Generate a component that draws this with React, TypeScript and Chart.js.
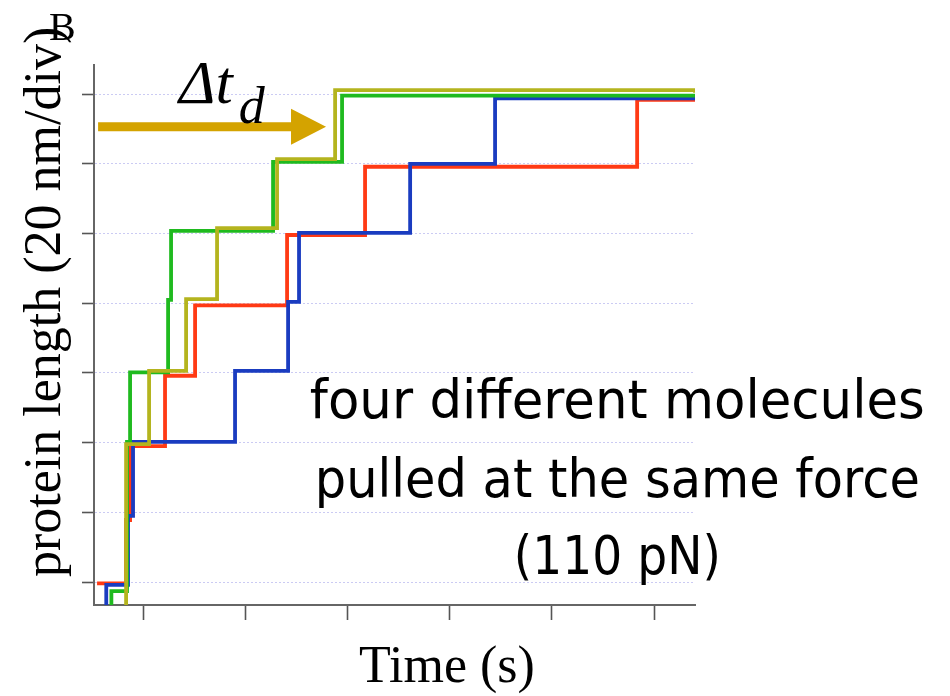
import React, { useEffect, useRef } from "react";
import { Chart, registerables } from "chart.js";

Chart.register(...registerables);

// ---- axes (one tick per division; no numeric labels in the figure) ----
const xTicks = [1, 2, 3, 4, 5, 6];
const yTicks = [0, 1, 2, 3, 4, 5, 6, 7];
const xRange = [0.52, 6.4];
const yRange = [-0.33, 7.42];

// ---- four unfolding traces: time of each step and the new length level (divisions) ----
const oliveTime = [0.55, 0.834, 1.059, 1.421, 1.724, 2.311, 2.879, 6.4];
const oliveLength = [-0.6, 1.98, 3.03, 4.06, 5.08, 6.07, 7.06, 7.02];

const greenTime = [0.677, 0.69, 0.843, 0.873, 1.245, 1.274, 2.272, 2.947, 6.4];
const greenLength = [-0.5, -0.13, 2.01, 3.01, 4.05, 5.04, 6.03, 6.98, 6.98];

const blueTime = [0.62, 0.64, 0.853, 0.902, 1.9, 2.419, 2.526, 3.613, 4.444, 6.4];
const blueLength = [-0.5, -0.04, 0.95, 2.01, 3.03, 4.02, 5.01, 6.0, 6.94, 6.94];

const redTime = [0.55, 0.834, 0.873, 1.215, 1.509, 2.409, 3.172, 5.834, 6.4];
const redLength = [-0.02, 0.89, 1.95, 2.96, 3.97, 4.98, 5.96, 6.92, 6.92];

const seriesNames = ["molecule 4", "molecule 1", "molecule 3", "molecule 2"];

// ---- annotations ----
const arrowTime = [0.56, 2.79];
const arrowLength = 6.535;
const noteLines = ["four different molecules", "pulled at the same force", "(110 pN)"];
const noteTime = 5.64;
const noteLength = [2.35, 1.22, 0.12];
const noteWidths = [615, 605, 207];

const COLORS = ["#b4b41e", "#1fba1f", "#1a3cc0", "#ff3a14"];

function pts(t: number[], v: number[]) {
  return t.map((x, i) => ({ x, y: v[i] }));
}

const overlay = {
  id: "overlay",
  afterDraw(chart: any) {
    const { ctx, scales } = chart;
    const xs = scales.x;
    const ys = scales.y;
    ctx.save();

    // arrow
    const x0 = xs.getPixelForValue(arrowTime[0]);
    const x1 = xs.getPixelForValue(arrowTime[1]);
    const ay = ys.getPixelForValue(arrowLength);
    const head = 35, half = 18, th = 4.5;
    ctx.fillStyle = "#d4a300";
    ctx.beginPath();
    ctx.moveTo(x0, ay - th);
    ctx.lineTo(x1 - head, ay - th);
    ctx.lineTo(x1 - head, ay - half);
    ctx.lineTo(x1, ay);
    ctx.lineTo(x1 - head, ay + half);
    ctx.lineTo(x1 - head, ay + th);
    ctx.lineTo(x0, ay + th);
    ctx.closePath();
    ctx.fill();

    // Δt_d
    ctx.fillStyle = "#000";
    ctx.textAlign = "left";
    ctx.textBaseline = "alphabetic";
    ctx.font = "italic 62px 'Liberation Serif'";
    const lx = x0 + 81;
    ctx.fillText("\u0394t", lx, ay - 24);
    const w = ctx.measureText("\u0394t").width;
    ctx.font = "italic 52px 'Liberation Serif'";
    ctx.fillText("d", lx + w + 6, ay - 4);

    // note text
    const cx = xs.getPixelForValue(noteTime);
    ctx.font = "54px 'DejaVu Sans'";
    ctx.textAlign = "center";
    noteLines.forEach((line, i) => {
      const by = ys.getPixelForValue(noteLength[i]);
      const sx = noteWidths[i] / ctx.measureText(line).width;
      ctx.save();
      ctx.translate(cx, by);
      ctx.scale(sx, 1);
      ctx.fillText(line, 0, 0);
      ctx.restore();
    });

    // axis titles
    ctx.font = "52px 'Liberation Serif'";
    ctx.textAlign = "center";
    ctx.fillText("Time (s)", 447, 682);

    ctx.save();
    ctx.translate(60, 577);
    ctx.rotate(-Math.PI / 2);
    ctx.textAlign = "left";
    ctx.fillText("protein length (20 nm/div)", 0, 0);
    ctx.restore();

    ctx.font = "40px 'Liberation Serif'";
    ctx.textAlign = "left";
    ctx.fillText("B", 49, 40);

    ctx.restore();
  },
};

export default function App() {
  const ref = useRef<HTMLCanvasElement | null>(null);

  useEffect(() => {
    if (!ref.current) return;
    const series = [
      pts(oliveTime, oliveLength),
      pts(greenTime, greenLength),
      pts(blueTime, blueLength),
      pts(redTime, redLength),
    ];
    const chart = new Chart(ref.current, {
      type: "scatter",
      data: {
        datasets: series.map((d, i) => ({
          label: seriesNames[i],
          data: d,
          showLine: true,
          stepped: true,
          borderColor: COLORS[i],
          backgroundColor: COLORS[i],
          borderWidth: 3.8,
          pointRadius: 0,
          pointHoverRadius: 0,
          fill: false,
        })),
      },
      options: {
        responsive: false,
        devicePixelRatio: 1,
        animation: false,
        layout: { padding: { left: 82, top: 65, right: 255, bottom: 76 } },
        plugins: { legend: { display: false }, tooltip: { enabled: false } },
        events: [],
        scales: {
          x: {
            type: "linear",
            min: xRange[0],
            max: xRange[1],
            afterBuildTicks: (s: any) => {
              s.ticks = xTicks.map((v) => ({ value: v }));
            },
            ticks: { display: false },
            grid: {
              display: true,
              drawOnChartArea: false,
              drawTicks: true,
              tickLength: 15,
              tickColor: "#555",
              tickWidth: 1.6,
              tickBorderDash: [],
            },
            border: { display: true, color: "#666", width: 2 },
          },
          y: {
            type: "linear",
            min: yRange[0],
            max: yRange[1],
            afterBuildTicks: (s: any) => {
              s.ticks = yTicks.map((v) => ({ value: v }));
            },
            ticks: { display: false },
            grid: {
              display: true,
              drawOnChartArea: true,
              drawTicks: true,
              tickLength: 12,
              color: "rgba(200,200,242,0.95)",
              lineWidth: 1,
              tickColor: "#555",
              tickWidth: 1.6,
              tickBorderDash: [],
            },
            border: { display: true, color: "#666", width: 2, dash: [2, 2] },
          },
        },
      },
      plugins: [overlay],
    } as any);
    return () => chart.destroy();
  }, []);

  return (
    <div style={{ position: "fixed", left: 0, top: 0, width: 950, height: 696, background: "#fff" }}>
      <canvas ref={ref} width={950} height={696} style={{ width: 950, height: 696, display: "block" }} />
    </div>
  );
}
